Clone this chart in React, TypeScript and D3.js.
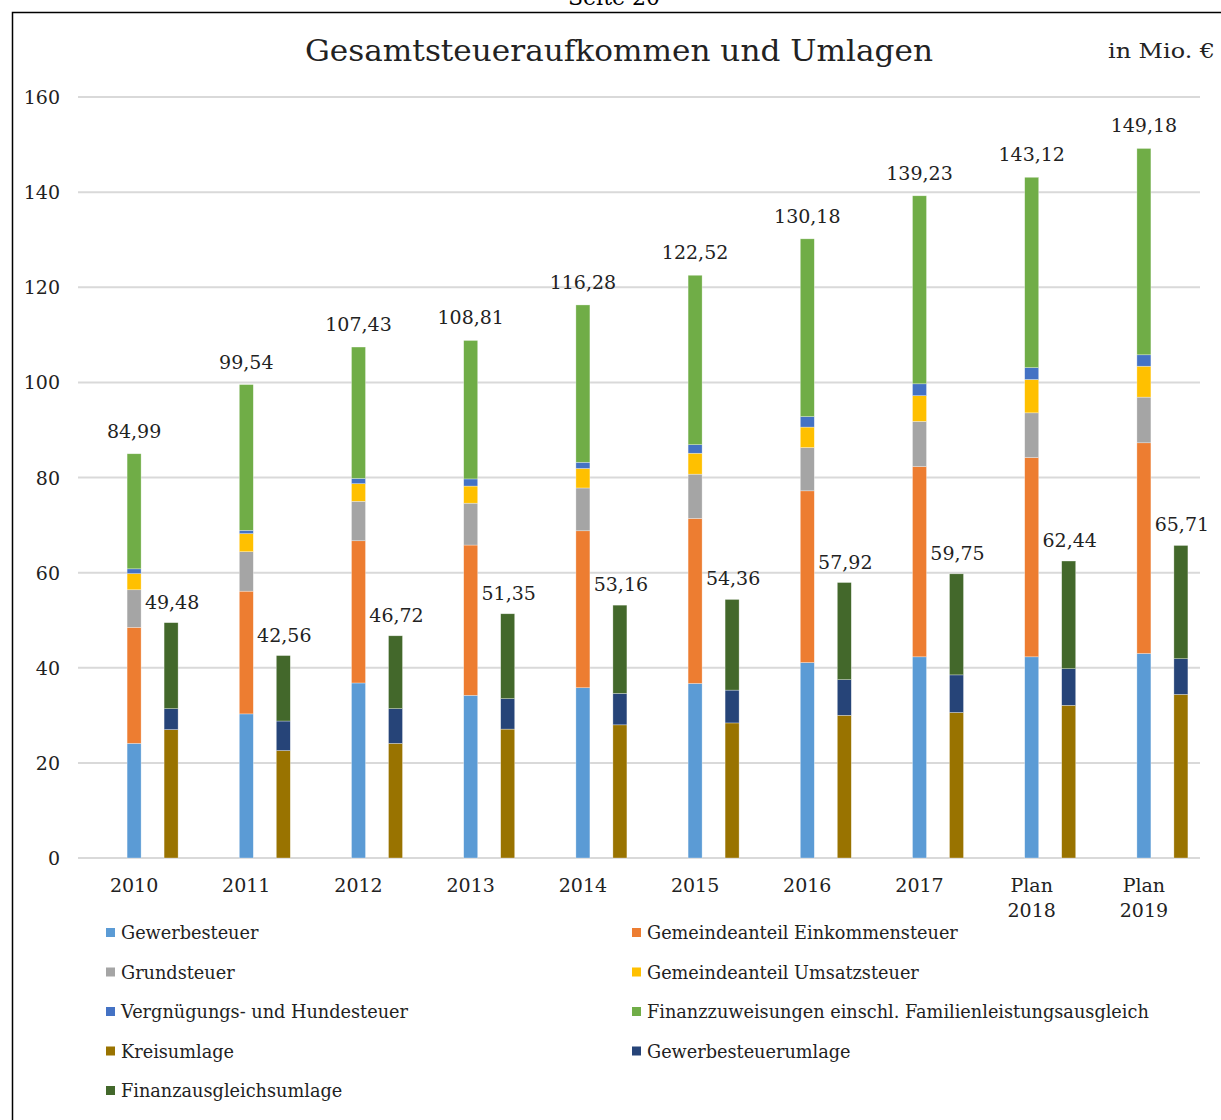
import * as d3 from 'd3'

const categories = ['2010', '2011', '2012', '2013', '2014', '2015', '2016', '2017', 'Plan 2018', 'Plan 2019']

// Einnahmen (linker Balken)
const gewerbesteuer = [24.1, 30.3, 36.8, 34.2, 35.8, 36.7, 41.1, 42.3, 42.3, 43.0]
const einkommensteuer = [24.4, 25.8, 29.9, 31.6, 33.0, 34.7, 36.1, 40.0, 41.9, 44.3]
const grundsteuer = [7.9, 8.3, 8.3, 8.8, 9.0, 9.3, 9.1, 9.5, 9.4, 9.6]
const umsatzsteuer = [3.4, 3.8, 3.7, 3.6, 4.1, 4.4, 4.3, 5.4, 7.0, 6.5]
const hundesteuer = [1.0, 0.7, 1.1, 1.5, 1.3, 1.8, 2.2, 2.5, 2.5, 2.4]
const finanzzuweisungen = [24.19, 30.64, 27.63, 29.11, 33.08, 35.62, 37.38, 39.53, 40.02, 43.38]
const einnahmenGesamt = ['84,99', '99,54', '107,43', '108,81', '116,28', '122,52', '130,18', '139,23', '143,12', '149,18']

// Umlagen (rechter Balken)
const kreisumlage = [27.0, 22.6, 24.1, 27.1, 28.0, 28.4, 30.0, 30.6, 32.1, 34.4]
const gewerbesteuerumlage = [4.4, 6.2, 7.3, 6.4, 6.6, 6.9, 7.5, 7.9, 7.7, 7.5]
const finanzausgleichsumlage = [18.08, 13.76, 15.32, 17.85, 18.56, 19.06, 20.42, 21.25, 22.64, 23.81]
const umlagenGesamt = ['49,48', '42,56', '46,72', '51,35', '53,16', '54,36', '57,92', '59,75', '62,44', '65,71']

const yTicks = [0, 20, 40, 60, 80, 100, 120, 140, 160]

const leftSeries = [
  { key: 'Gewerbesteuer', values: gewerbesteuer, color: '#5B9BD5' },
  { key: 'Gemeindeanteil Einkommensteuer', values: einkommensteuer, color: '#ED7D31' },
  { key: 'Grundsteuer', values: grundsteuer, color: '#A5A5A5' },
  { key: 'Gemeindeanteil Umsatzsteuer', values: umsatzsteuer, color: '#FFC000' },
  { key: 'Vergnügungs- und Hundesteuer', values: hundesteuer, color: '#4472C4' },
  { key: 'Finanzzuweisungen einschl. Familienleistungsausgleich', values: finanzzuweisungen, color: '#70AD47' },
]
const rightSeries = [
  { key: 'Kreisumlage', values: kreisumlage, color: '#997300' },
  { key: 'Gewerbesteuerumlage', values: gewerbesteuerumlage, color: '#264478' },
  { key: 'Finanzausgleichsumlage', values: finanzausgleichsumlage, color: '#43682B' },
]

// legend order as in the reference (two columns)
const legendOrder = [
  'Gewerbesteuer', 'Gemeindeanteil Einkommensteuer',
  'Grundsteuer', 'Gemeindeanteil Umsatzsteuer',
  'Vergnügungs- und Hundesteuer', 'Finanzzuweisungen einschl. Familienleistungsausgleich',
  'Kreisumlage', 'Gewerbesteuerumlage',
  'Finanzausgleichsumlage',
]

const FONT = '"DejaVu Serif", serif'

export default function App() {
  const width = 1221
  const height = 1120
  const plot = { left: 78, right: 1200, top: 97, bottom: 858 }

  const x = d3.scaleBand<string>().domain(categories).range([plot.left, plot.right])
  const y = d3.scaleLinear().domain([0, 160]).range([plot.bottom, plot.top])
  const barW = 14
  const pairOffset = 37

  const makeRows = (series: typeof leftSeries) =>
    categories.map((c, i) => {
      const row: Record<string, number | string> = { cat: c }
      series.forEach(s => { row[s.key] = s.values[i] })
      return row
    })

  const leftStack = d3.stack<any>().keys(leftSeries.map(s => s.key))(makeRows(leftSeries))
  const rightStack = d3.stack<any>().keys(rightSeries.map(s => s.key))(makeRows(rightSeries))
  const colorOf: Record<string, string> = {}
  ;[...leftSeries, ...rightSeries].forEach(s => { colorOf[s.key] = s.color })

  const cx = (c: string) => (x(c) ?? 0) + x.bandwidth() / 2

  return (
    <svg width={width} height={height} style={{ position: 'absolute', left: 0, top: 0, background: '#fff' }}>
      <rect x={0} y={0} width={width} height={height} fill="#fff" />
      {/* page header, cut off at the top edge as in the scan */}
      <text x={614} y={5} textAnchor="middle" fontFamily={FONT} fontSize={22} fill="#000">Seite 20</text>
      <rect x={12.5} y={12.5} width={width + 20} height={height + 20} fill="none" stroke="#000" strokeWidth={1.5} />

      <text x={619} y={61} textAnchor="middle" fontFamily={FONT} fontSize={29} fill="#222"
        textLength={628} lengthAdjust="spacingAndGlyphs">Gesamtsteueraufkommen und Umlagen</text>
      <text x={1215} y={58} textAnchor="end" fontFamily={FONT} fontSize={21} fill="#222"
        textLength={107} lengthAdjust="spacingAndGlyphs">in Mio. €</text>

      {/* gridlines and y ticks */}
      {yTicks.map(t => (
        <g key={t}>
          <line x1={plot.left} x2={plot.right} y1={y(t)} y2={y(t)} stroke="#d9d9d9" strokeWidth={2} />
          <text x={60} y={y(t) + 7} textAnchor="end" fontFamily={FONT} fontSize={19} fill="#222">{t}</text>
        </g>
      ))}

      {/* left bars */}
      {leftStack.map(layer => (
        <g key={layer.key} fill={colorOf[layer.key]}>
          {layer.map((d, i) => (
            <rect key={i} x={cx(categories[i]) - barW / 2} y={y(d[1])} width={barW}
              height={y(d[0]) - y(d[1])} stroke="#fff" strokeOpacity={0.5} strokeWidth={0.6} />
          ))}
        </g>
      ))}
      {/* right bars */}
      {rightStack.map(layer => (
        <g key={layer.key} fill={colorOf[layer.key]}>
          {layer.map((d, i) => (
            <rect key={i} x={cx(categories[i]) + pairOffset - barW / 2} y={y(d[1])} width={barW}
              height={y(d[0]) - y(d[1])} stroke="#fff" strokeOpacity={0.5} strokeWidth={0.6} />
          ))}
        </g>
      ))}

      {/* total labels */}
      {categories.map((c, i) => {
        const topL = leftStack[leftStack.length - 1][i][1]
        const topR = rightStack[rightStack.length - 1][i][1]
        return (
          <g key={c} fontFamily={FONT} fontSize={19} fill="#222" textAnchor="middle">
            <text x={cx(c)} y={y(topL) - 16}>{einnahmenGesamt[i]}</text>
            <text x={cx(c) + pairOffset + 1} y={y(topR) - 14}>{umlagenGesamt[i]}</text>
          </g>
        )
      })}

      {/* x labels */}
      {categories.map(c => {
        const parts = c.split(' ')
        return (
          <text key={c} x={cx(c)} textAnchor="middle" fontFamily={FONT} fontSize={19} fill="#222">
            {parts.map((p, j) => (
              <tspan key={j} x={cx(c)} y={892 + j * 25}>{p}</tspan>
            ))}
          </text>
        )
      })}

      {/* legend */}
      {legendOrder.map((k, i) => {
        const col = i % 2
        const row = Math.floor(i / 2)
        const lx = col === 0 ? 106 : 632
        const ly = 933 + row * 39.5
        return (
          <g key={k}>
            <rect x={lx} y={ly - 5} width={9} height={9} fill={colorOf[k]} />
            <text x={lx + 15} y={ly + 6} fontFamily={FONT} fontSize={17.7} fill="#222">{k}</text>
          </g>
        )
      })}
    </svg>
  )
}
